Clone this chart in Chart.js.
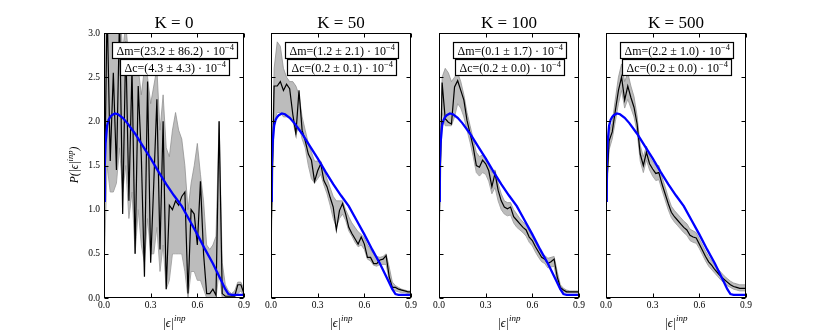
<!DOCTYPE html>
<html>
<head>
<meta charset="utf-8">
<script src="https://cdn.jsdelivr.net/npm/chart.js@4"></script>
<style>
  html, body { margin: 0; padding: 0; background: #fff; }
  #wrap { position: relative; width: 830px; height: 332px; }
  canvas { position: absolute; left: 0; top: 0; }
</style>
</head>
<body>
<div id="wrap">
  <canvas id="c0" width="830" height="332"></canvas>
  <canvas id="c1" width="830" height="332"></canvas>
  <canvas id="c2" width="830" height="332"></canvas>
  <canvas id="c3" width="830" height="332"></canvas>
</div>
<script>
// ---------------- data ----------------
const xTicks = [0.0, 0.3, 0.6, 0.9];
const yTicks = [0.0, 0.5, 1.0, 1.5, 2.0, 2.5, 3.0];

const titles = ["K = 0", "K = 50", "K = 100", "K = 500"];
const dmText = ["(23.2 \u00b1 86.2)", "(1.2 \u00b1 2.1)", "(0.1 \u00b1 1.7)", "(2.2 \u00b1 1.0)"];
const dcText = ["(4.3 \u00b1 4.3)", "(0.2 \u00b1 0.1)", "(0.2 \u00b1 0.0)", "(0.2 \u00b1 0.0)"];

const binX = [0.00, 0.02, 0.04, 0.06, 0.08, 0.10, 0.12, 0.14, 0.16, 0.18,
              0.20, 0.22, 0.24, 0.26, 0.28, 0.30, 0.32, 0.34, 0.36, 0.38,
              0.40, 0.42, 0.44, 0.46, 0.48, 0.50, 0.52, 0.54, 0.56, 0.58,
              0.60, 0.62, 0.64, 0.66, 0.68, 0.70, 0.72, 0.74, 0.76, 0.78,
              0.80, 0.82, 0.84, 0.86, 0.88, 0.90];

// model (blue) curve
const modelX = [0, 0.005, 0.01, 0.02, 0.03, 0.04, 0.05, 0.07, 0.09, 0.12, 0.15, 0.20, 0.25, 0.30,
                0.35, 0.40, 0.45, 0.50, 0.55, 0.60, 0.65, 0.70, 0.75, 0.78, 0.80, 0.82, 0.85, 0.90];
const modelY = [1.1, 1.5, 1.75, 1.95, 2.02, 2.05, 2.07, 2.09, 2.08, 2.04, 1.98, 1.86, 1.72, 1.58,
                1.43, 1.29, 1.16, 1.04, 0.88, 0.72, 0.55, 0.39, 0.21, 0.10, 0.045, 0.035, 0.035, 0.035];

// K = 0
const k0Line  = [0.8, 3.3, 1.55, 2.55, 1.45, 3.2, 0.95, 2.9, 1.1, 2.6,
                 0.5, 2.4, 1.6, 0.24, 2.45, 0.4, 1.3, 2.25, 0.55, 2.0,
                 0.1, 1.05, 1.0, 1.1, 1.05, 1.15, 1.2, 0.05, 1.0, 0.95,
                 0.6, 1.32, 0.5, 0.05, 0.05, 0.1, 0.03, 2.0, 0.05, 0.02,
                 0.02, 0.02, 0.02, 0.15, 0.15, 0.05];
const k0Upper = [3.2, 3.5, 3.3, 3.2, 3.0, 3.3, 2.8, 3.1, 2.7, 2.8,
                 2.6, 2.6, 2.3, 2.6, 2.5, 2.2, 2.4, 2.6, 1.9, 2.3,
                 1.7, 1.6, 1.9, 2.1, 1.9, 1.8, 1.5, 1.0, 1.3, 1.5,
                 1.75, 1.4, 1.1, 0.6, 0.55, 0.6, 0.7, 2.0, 0.4, 0.15,
                 0.08, 0.05, 0.08, 0.18, 0.18, 0.1];
const k0Lower = [0.3, 1.5, 1.2, 1.2, 1.3, 1.7, 1.2, 1.5, 0.9, 1.2,
                 0.5, 1.0, 0.6, 0.4, 0.9, 0.5, 0.5, 0.8, 0.3, 0.6,
                 0.1, 0.2, 0.5, 0.5, 0.5, 0.5, 0.3, 0.0, 0.3, 0.3,
                 0.2, 0.2, 0.1, 0.0, 0.0, 0.0, 0.0, 0.3, 0.0, 0.0,
                 0.0, 0.0, 0.0, 0.05, 0.08, 0.02];

// K = 50
const k50Line  = [0.65, 2.4, 2.4, 2.45, 2.35, 2.42, 2.37, 2.08, 1.86, 2.35,
                  1.9, 1.78, 1.63, 1.56, 1.32, 1.44, 1.52, 1.33, 1.26, 1.14,
                  1.03, 0.77, 0.99, 1.07, 0.95, 0.80, 0.73, 0.67, 0.61, 0.69,
                  0.61, 0.46, 0.46, 0.39, 0.39, 0.43, 0.44, 0.48, 0.24, 0.12,
                  0.12, 0.10, 0.09, 0.08, 0.07, 0.07];
const k50Upper = [0.9, 2.6, 2.9, 2.85, 2.6, 2.5, 2.45, 2.45, 2.4, 2.3,
                  2.05, 1.9, 1.75, 1.65, 1.55, 1.55, 1.55, 1.45, 1.35, 1.25,
                  1.15, 1.1, 1.1, 1.1, 1.0, 0.92, 0.85, 0.8, 0.75, 0.72,
                  0.68, 0.6, 0.55, 0.5, 0.47, 0.46, 0.47, 0.5, 0.35, 0.18,
                  0.14, 0.12, 0.1, 0.09, 0.08, 0.08];
const k50Lower = [0.5, 2.0, 2.1, 2.1, 2.05, 2.05, 2.05, 2.0, 1.85, 1.95,
                  1.8, 1.7, 1.5, 1.35, 1.3, 1.35, 1.4, 1.28, 1.18, 1.05,
                  0.9, 0.8, 0.9, 0.95, 0.88, 0.76, 0.7, 0.63, 0.58, 0.6,
                  0.55, 0.44, 0.42, 0.37, 0.36, 0.38, 0.38, 0.38, 0.2, 0.09,
                  0.08, 0.07, 0.06, 0.06, 0.05, 0.05];

// K = 100
const k100Line  = [0.73, 2.44, 2.03, 1.99, 1.97, 2.39, 2.46, 2.35, 2.24, 2.01,
                   1.86, 1.71, 1.50, 1.48, 1.56, 1.52, 1.44, 1.26, 1.41, 1.22,
                   1.10, 1.03, 1.01, 1.03, 0.92, 0.88, 0.84, 0.80, 0.77, 0.69,
                   0.65, 0.58, 0.52, 0.46, 0.44, 0.39, 0.41, 0.44, 0.24, 0.12,
                   0.09, 0.07, 0.07, 0.07, 0.07, 0.07];
const k100Upper = [0.9, 2.5, 2.6, 2.55, 2.45, 2.5, 2.55, 2.45, 2.3, 2.1,
                   1.95, 1.8, 1.65, 1.6, 1.62, 1.58, 1.5, 1.42, 1.45, 1.3,
                   1.18, 1.1, 1.08, 1.08, 1.0, 0.95, 0.9, 0.86, 0.83, 0.76,
                   0.7, 0.63, 0.57, 0.51, 0.48, 0.45, 0.46, 0.47, 0.3, 0.15,
                   0.11, 0.09, 0.08, 0.08, 0.08, 0.08];
const k100Lower = [0.6, 2.1, 1.95, 1.95, 1.95, 2.05, 2.2, 2.15, 2.05, 1.9,
                   1.76, 1.6, 1.42, 1.38, 1.42, 1.4, 1.32, 1.18, 1.25, 1.1,
                   1.0, 0.95, 0.93, 0.94, 0.85, 0.8, 0.77, 0.74, 0.7, 0.63,
                   0.59, 0.52, 0.46, 0.41, 0.39, 0.34, 0.35, 0.36, 0.18, 0.09,
                   0.07, 0.06, 0.06, 0.06, 0.06, 0.06];

// K = 500
const k500Line  = [1.1, 1.78, 1.88, 2.12, 2.35, 2.5, 2.24, 2.4, 2.27, 2.16,
                   1.97, 1.63, 1.50, 1.65, 1.52, 1.46, 1.41, 1.42, 1.29, 1.18,
                   1.07, 0.97, 0.92, 0.88, 0.84, 0.80, 0.77, 0.71, 0.69, 0.68,
                   0.61, 0.54, 0.47, 0.41, 0.37, 0.32, 0.28, 0.24, 0.21, 0.18,
                   0.15, 0.13, 0.12, 0.11, 0.11, 0.11];
const k500Upper = [1.2, 1.88, 1.98, 2.25, 2.5, 2.65, 2.45, 2.55, 2.4, 2.28,
                   2.06, 1.73, 1.6, 1.72, 1.6, 1.54, 1.5, 1.5, 1.37, 1.26,
                   1.14, 1.04, 0.99, 0.95, 0.91, 0.87, 0.84, 0.78, 0.76, 0.74,
                   0.67, 0.6, 0.53, 0.47, 0.42, 0.37, 0.33, 0.29, 0.25, 0.22,
                   0.19, 0.17, 0.16, 0.15, 0.15, 0.15];
const k500Lower = [1.0, 1.68, 1.8, 2.0, 2.2, 2.35, 2.15, 2.25, 2.15, 2.05,
                   1.88, 1.55, 1.42, 1.56, 1.45, 1.38, 1.33, 1.34, 1.22, 1.11,
                   1.0, 0.91, 0.86, 0.82, 0.78, 0.74, 0.71, 0.65, 0.63, 0.62,
                   0.56, 0.49, 0.42, 0.36, 0.32, 0.28, 0.24, 0.2, 0.17, 0.14,
                   0.12, 0.1, 0.09, 0.08, 0.08, 0.08];

const lines  = [k0Line, k50Line, k100Line, k500Line];
const uppers = [k0Upper, k50Upper, k100Upper, k500Upper];
const lowers = [k0Lower, k50Lower, k100Lower, k500Lower];

// ---------------- layout / style ----------------
const panelLeft = [104, 271, 439, 606];
const panelWidth = 140;
const TOP = 33, BOTTOM = 298;
const SERIF = '"Liberation Serif", "DejaVu Serif", serif';
const BAND = 'rgba(160,160,160,0.70)';
const BAND_EDGE = 'rgba(140,140,140,0.9)';

function pts(xs, ys) { return ys.map((v, i) => ({ x: xs[i], y: v })); }

function drawSupText(ctx, parts, x, y) {
  let cx = x;
  for (const p of parts) {
    ctx.font = p.font;
    ctx.fillText(p.t, cx, y + (p.dy || 0));
    cx += ctx.measureText(p.t).width;
  }
}
function measureParts(ctx, parts) {
  let w = 0;
  for (const p of parts) { ctx.font = p.font; w += ctx.measureText(p.t).width; }
  return w;
}

const decorPlugin = {
  id: 'decor',
  afterDraw(chart) {
    const idx = chart.options.plugins.decor.idx;
    const { ctx, chartArea: a, scales } = chart;
    const xs = scales.x, ys = scales.y;
    ctx.save();
    // frame
    ctx.strokeStyle = '#000';
    ctx.lineWidth = 1;
    const L = Math.round(a.left) + 0.5, R = Math.round(a.right) - 0.5;
    const T = Math.round(a.top) + 0.5, B = Math.round(a.bottom) - 0.5;
    ctx.strokeRect(L, T, R - L, B - T);
    // inward ticks
    ctx.beginPath();
    for (const v of xTicks) {
      const px = Math.round(xs.getPixelForValue(v)) + 0.5;
      ctx.moveTo(px, B); ctx.lineTo(px, B - 4);
      ctx.moveTo(px, T); ctx.lineTo(px, T + 4);
    }
    for (const v of yTicks) {
      const py = Math.round(ys.getPixelForValue(v)) + 0.5;
      ctx.moveTo(L, py); ctx.lineTo(L + 4, py);
      ctx.moveTo(R, py); ctx.lineTo(R - 4, py);
    }
    ctx.stroke();

    const cx = (a.left + a.right) / 2;
    ctx.fillStyle = '#000';
    ctx.textBaseline = 'alphabetic';
    ctx.textAlign = 'left';

    // title
    ctx.font = '17px ' + SERIF;
    const tw = ctx.measureText(titles[idx]).width;
    ctx.fillText(titles[idx], cx - tw / 2, 28);

    // annotation boxes
    const boxes = [
      [{ t: '\u0394m=' + dmText[idx] + ' \u00b7 10', font: '12px ' + SERIF },
       { t: '\u22124', font: '8.5px ' + SERIF, dy: -5 }],
      [{ t: '\u0394c=' + dcText[idx] + ' \u00b7 10', font: '12px ' + SERIF },
       { t: '\u22124', font: '8.5px ' + SERIF, dy: -5 }]
    ];
    const boxTop = [42.5, 59.5];
    boxes.forEach((parts, k) => {
      const w = measureParts(ctx, parts);
      const bw = Math.round(w + 8);
      const bx = Math.round(cx - bw / 2) + 0.5;
      const by = boxTop[k];
      ctx.fillStyle = '#fff';
      ctx.fillRect(bx, by, bw, 16);
      ctx.strokeStyle = '#000';
      ctx.lineWidth = 1.2;
      ctx.strokeRect(bx, by, bw, 16);
      ctx.fillStyle = '#000';
      drawSupText(ctx, parts, bx + 4, by + 12);
    });

    // x axis title
    const xt = [
      { t: '|\u03f5|', font: 'italic 12px ' + SERIF },
      { t: 'inp', font: 'italic 9px ' + SERIF, dy: -6 }
    ];
    const xw = measureParts(ctx, xt);
    drawSupText(ctx, xt, cx - xw / 2, 327);

    // y axis title (first panel only)
    if (idx === 0) {
      const yt = [
        { t: 'P(|\u03f5|', font: 'italic 11.5px ' + SERIF },
        { t: 'inp', font: 'italic 8.5px ' + SERIF, dy: -5 },
        { t: ')', font: 'italic 11.5px ' + SERIF }
      ];
      const yw = measureParts(ctx, yt);
      ctx.translate(78, 165);
      ctx.rotate(-Math.PI / 2);
      drawSupText(ctx, yt, -yw / 2, 0);
    }
    ctx.restore();
  }
};

function makeChart(idx) {
  const L = panelLeft[idx];
  return new Chart(document.getElementById('c' + idx), {
    type: 'line',
    data: {
      datasets: [
        { data: pts(binX, uppers[idx]), fill: '+1', backgroundColor: BAND, borderColor: BAND_EDGE,
          borderWidth: 0.8, pointRadius: 0, tension: 0, order: 3, clip: 0 },
        { data: pts(binX, lowers[idx]), fill: false, borderColor: BAND_EDGE,
          borderWidth: 0.8, pointRadius: 0, tension: 0, order: 3, clip: 0 },
        { data: pts(binX, lines[idx]), fill: false, borderColor: '#000000',
          borderWidth: 1.2, pointRadius: 0, tension: 0, order: 2, clip: 0 },
        { data: pts(modelX, modelY), fill: false, borderColor: '#0000ff',
          borderWidth: 2.3, pointRadius: 0, tension: 0, order: 1, clip: 0 }
      ]
    },
    options: {
      responsive: false,
      animation: false,
      events: [],
      layout: { padding: { left: 0, right: 830 - L - panelWidth, top: TOP, bottom: 0 } },
      plugins: { legend: { display: false }, tooltip: { enabled: false }, decor: { idx } },
      scales: {
        x: {
          type: 'linear', min: 0, max: 0.9,
          afterBuildTicks: s => { s.ticks = xTicks.map(v => ({ value: v })); },
          afterFit: s => { s.height = 332 - BOTTOM; },
          grid: { display: false, drawTicks: false },
          border: { display: false },
          ticks: {
            padding: 2, color: '#000', maxRotation: 0, autoSkip: false,
            font: { family: SERIF, size: 9.5 },
            callback: v => Number(v).toFixed(1)
          }
        },
        y: {
          type: 'linear', min: 0, max: 3,
          afterBuildTicks: s => { s.ticks = yTicks.map(v => ({ value: v })); },
          afterFit: s => { s.width = L; },
          grid: { display: false, drawTicks: false },
          border: { display: false },
          ticks: {
            display: idx === 0, padding: 4, color: '#000', autoSkip: false,
            font: { family: SERIF, size: 9.5 },
            callback: v => Number(v).toFixed(1)
          }
        }
      }
    },
    plugins: [decorPlugin]
  });
}
for (let i = 0; i < 4; i++) makeChart(i);
</script>
</body>
</html>
